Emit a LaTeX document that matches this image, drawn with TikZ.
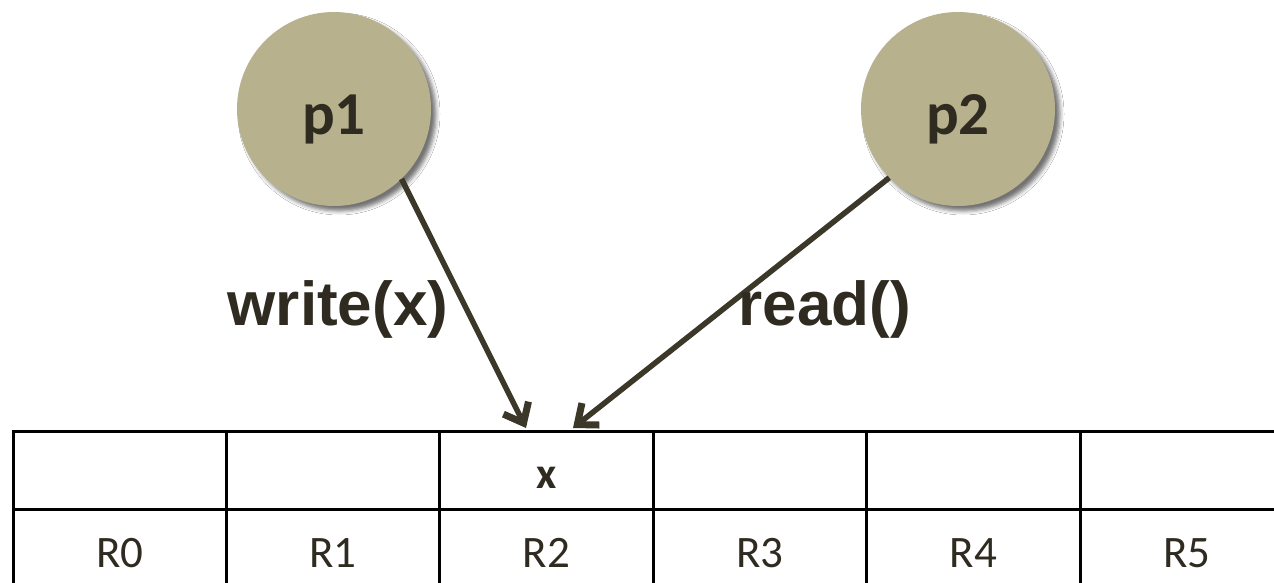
\documentclass[tikz,border=0pt]{standalone}
\usepackage{fontspec}
\setmainfont{Carlito}
\newfontfamily\opfont{Liberation Sans}
\usetikzlibrary{arrows.meta,shadows.blur}

\definecolor{procfill}{HTML}{B7B18D}
\definecolor{ink}{HTML}{2F2B20}
\definecolor{wire}{HTML}{3B3729}

\tikzset{
  procnode/.style={circle, fill=procfill, minimum size=194pt, inner sep=0pt,
    blur shadow={shadow xshift=5pt, shadow yshift=-5pt,
                 shadow blur radius=4pt, shadow opacity=55}},
  procname/.style={anchor=base, text=ink, inner sep=0pt,
    font=\bfseries\fontsize{61}{61}\selectfont},
  oplabel/.style={anchor=base, text=ink, inner sep=0pt,
    font=\opfont\bfseries\fontsize{62}{62}\selectfont},
  access/.style={draw=wire, line width=5.5pt,
    -{Straight Barb[length=17pt,width=28pt,line width=7pt]}},
  cell/.style={draw=black, line width=3pt, minimum width=213.4pt,
    minimum height=78pt, inner sep=0pt},
  regname/.style={anchor=base, text=ink, inner sep=0pt,
    font=\fontsize{45}{45}\selectfont},
  value/.style={anchor=base, text=ink, inner sep=0pt,
    font=\bfseries\fontsize{44}{44}\selectfont},
}

\begin{document}
\begin{tikzpicture}[x=1pt,y=-1pt]
  \useasboundingbox (0,0) rectangle (1274,583);
  \fill[white] (0,0) rectangle (1274,583);
  \clip (0,0) rectangle (1274,583);

  % register table: contents row above, register names below
  \foreach \i in {0,...,5} {
    \node[cell] (slot\i) at ({119.7+213.4*\i}, 470) {};
    \node[cell] (reg\i)  at ({119.7+213.4*\i}, 548) {};
    \node[regname] (rname\i) at ({119.7+213.4*\i}, 567) {R\i};
  }
  \node[value] (xval) at (slot2.center |- 0,488) {x};

  % processes
  \node[procnode] (p1) at (334,109) {};
  \node[procnode] (p2) at (958,109) {};
  \node[procname] (p1name) at (334,135) {p1};
  \node[procname] (p2name) at (958,135) {p2};

  % accesses to register R2
  \coordinate (wtip) at (526,428);
  \coordinate (rtip) at (573,428);
  \draw[access] (p1.-46) -- (wtip);
  \draw[access] (p2.-135) -- (rtip);

  \node[oplabel] (wlabel) at (338,325) {write(x)};
  \node[oplabel] (rlabel) at (825,325) {read()};
\end{tikzpicture}
\end{document}
